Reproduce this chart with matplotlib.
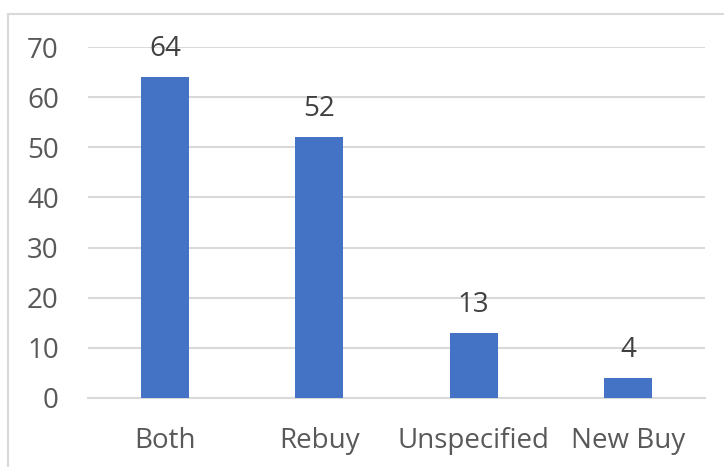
import matplotlib
matplotlib.use("Agg")
from matplotlib import pyplot as plt
from matplotlib.lines import Line2D

categories = ["Both", "Rebuy", "Unspecified", "New Buy"]
counts = [64, 52, 13, 4]
yticks = [0, 10, 20, 30, 40, 50, 60, 70]

text_color = "#595959"
grid_color = "#D9D9D9"
bar_color = "#4472C4"

plt.rcParams["font.family"] = ["Open Sans", "DejaVu Sans"]

fig = plt.figure(figsize=(7.24, 4.67), dpi=100)
ax = fig.add_axes([88 / 724, 1 - 398 / 467, (705 - 88) / 724, (398 - 47) / 467])

x = range(len(categories))
bars = ax.bar(x, counts, width=0.31, color=bar_color, zorder=3)
ax.set_xlim(-0.5, len(categories) - 0.5)
ax.set_ylim(0, 70)
ax.set_yticks(yticks)
ax.set_xticks(list(x))
ax.set_xticklabels(categories)
ax.yaxis.grid(True, color=grid_color, linewidth=1.5, zorder=0)
ax.set_axisbelow(True)
for s in ["top", "right", "left"]:
    ax.spines[s].set_visible(False)
ax.spines["bottom"].set_color(grid_color)
ax.spines["bottom"].set_linewidth(1.5)
ax.tick_params(axis="y", length=0, pad=21, labelsize=20, labelcolor=text_color)
ax.tick_params(axis="x", length=0, pad=21, labelsize=20, labelcolor=text_color)

# value labels above each bar
for rect, v in zip(bars, counts):
    ax.annotate(str(v), (rect.get_x() + rect.get_width() / 2, v),
                xytext=(0, 10), textcoords="offset points",
                ha="center", va="bottom", fontsize=20, color="#404040")

# chart-area border: top and left edges only
fig.add_artist(Line2D([8 / 724, 8 / 724], [0, 1 - 14 / 467], color=grid_color,
                      linewidth=1.5, transform=fig.transFigure))
fig.add_artist(Line2D([8 / 724, 1], [1 - 14 / 467, 1 - 14 / 467], color=grid_color,
                      linewidth=1.5, transform=fig.transFigure))

fig.savefig("out.png", dpi=100)
